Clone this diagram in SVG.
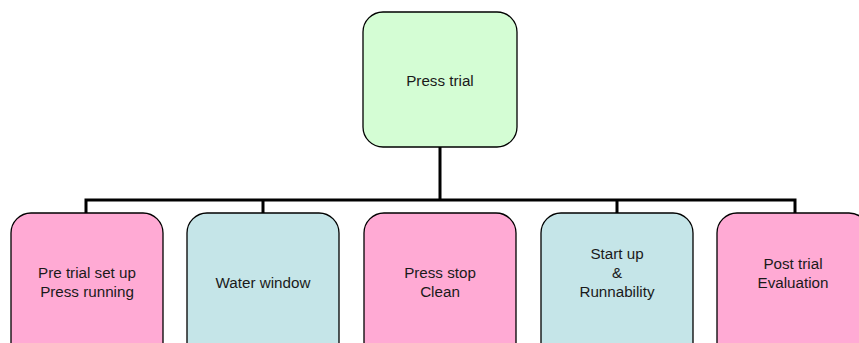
<svg xmlns="http://www.w3.org/2000/svg" width="859" height="343" viewBox="0 0 859 343">
<style>
.box{stroke:#000;stroke-width:1.3}
.g{fill:#d4fdd4}
.p{fill:#ffaad4}
.b{fill:#c5e5e8}
text{font-family:"Liberation Sans",Arial,sans-serif;font-size:15.2px;fill:#1a1a1a;text-anchor:middle}
.c{stroke:#000;stroke-width:3;fill:none}
</style>
<rect width="859" height="343" fill="#fff"/>
<g id="connectors">
<path class="c" d="M440 147V200M86 214V200H795V214M263 200V214M617 200V214"/>
</g>
<g id="n0"><rect class="box g" x="363" y="12" width="154" height="135" rx="20"/><text x="440" y="86">Press trial</text></g>
<g id="n1"><rect class="box p" x="11" y="213" width="152" height="150" rx="20"/><text x="87" y="278">Pre trial set up</text><text x="87" y="297">Press running</text></g>
<g id="n2"><rect class="box b" x="187" y="213" width="152" height="150" rx="20"/><text x="263" y="288">Water window</text></g>
<g id="n3"><rect class="box p" x="364" y="213" width="152" height="150" rx="20"/><text x="440" y="278">Press stop</text><text x="440" y="297">Clean</text></g>
<g id="n4"><rect class="box b" x="541" y="213" width="152" height="150" rx="20"/><text x="617" y="259">Start up</text><text x="617" y="278">&amp;</text><text x="617" y="297">Runnability</text></g>
<g id="n5"><rect class="box p" x="717" y="213" width="152" height="150" rx="20"/><text x="793" y="269">Post trial</text><text x="793" y="288">Evaluation</text></g>
</svg>
